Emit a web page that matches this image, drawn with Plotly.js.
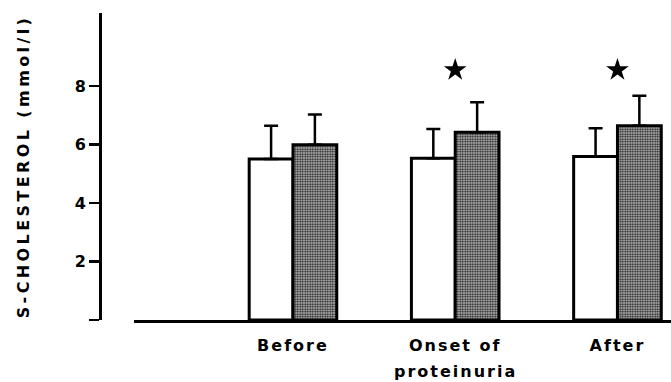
<!DOCTYPE html>
<html><head><meta charset="utf-8">
<script src="https://cdn.plot.ly/plotly-3.0.1.min.js"></script>
<style>
html,body{margin:0;padding:0;background:#fff}
#chart{width:671px;height:382px}
.xtick text, .annotation-text {letter-spacing:2px}
.ytitle {letter-spacing:3.4px}
</style></head><body><div id="chart"></div>
<script>
const categories = ['Before', 'Onset of proteinuria', 'After'];
const tickLabels = ['Before', 'Onset of', 'After'];
const controlMean = [5.51, 5.53, 5.59];
const controlSD = [1.13, 1.00, 0.97];
const treatedMean = [5.99, 6.42, 6.64];
const treatedSD = [1.04, 1.03, 1.03];
const starY = [null, 8.55, 8.55];
const yTickVals = [0, 2, 4, 6, 8];
const yTickText = ['', '2', '4', '6', '8'];
const yTitle = 'S-CHOLESTEROL (mmol/l)';

const FONT = 'DejaVu Sans, Liberation Sans, sans-serif';

const errStyle = {color: '#000', thickness: 2.5, width: 7};

const traces = [
  {
    type: 'bar', x: categories, y: controlMean, name: 'control',
    marker: {color: '#ffffff', line: {color: '#000', width: 3}},
    error_y: Object.assign({type: 'data', symmetric: false, array: controlSD, arrayminus: [0,0,0]}, errStyle)
  },
  {
    type: 'bar', x: categories, y: treatedMean, name: 'treated',
    marker: {color: '#aaaaaa', line: {color: '#000', width: 3},
      pattern: {shape: '.', size: 2.5, solidity: 0.55, fgcolor: '#262626', bgcolor: '#d0d0d0'}},
    error_y: Object.assign({type: 'data', symmetric: false, array: treatedSD, arrayminus: [0,0,0]}, errStyle)
  },
  {
    type: 'scatter', mode: 'markers', x: categories, y: starY, name: 'significant',
    marker: {symbol: 'star', size: 17, color: '#000'}
  }
];

const layout = {
  width: 671, height: 382,
  margin: {l: 100, r: 0, t: 13, b: 62},
  paper_bgcolor: '#fff', plot_bgcolor: '#fff',
  showlegend: false,
  barmode: 'group', bargap: 0.46, bargroupgap: 0,
  font: {family: FONT, color: '#000'},
  xaxis: {
    type: 'category', domain: [34/571, 1], range: [-0.98, 2.33],
    tickvals: categories, ticktext: tickLabels,
    showgrid: false, zeroline: false, showline: true, linecolor: '#000', linewidth: 2.5,
    ticks: '', ticklabelstandoff: 9,
    tickfont: {family: FONT, size: 16, weight: 'bold', color: '#000'}
  },
  yaxis: {
    range: [0, 10.5], anchor: 'free', position: 0,
    tickvals: yTickVals, ticktext: yTickText,
    showgrid: false, zeroline: false, showline: true, linecolor: '#000', linewidth: 3,
    ticks: 'outside', ticklen: 10, tickwidth: 2.5, tickcolor: '#000',
    tickfont: {family: FONT, size: 16, weight: 'bold', color: '#000'},
    title: {text: yTitle, standoff: 40, font: {family: FONT, size: 16, weight: 'bold', color: '#000'}}
  },
  annotations: [
    {xref: 'x', yref: 'paper', x: categories[1], y: -0.168, yanchor: 'middle', xanchor: 'center',
     text: 'proteinuria', showarrow: false, font: {family: FONT, size: 16, weight: 'bold', color: '#000'}}
  ]
};

Plotly.newPlot('chart', traces, layout, {staticPlot: true, displayModeBar: false});
</script></body></html>
